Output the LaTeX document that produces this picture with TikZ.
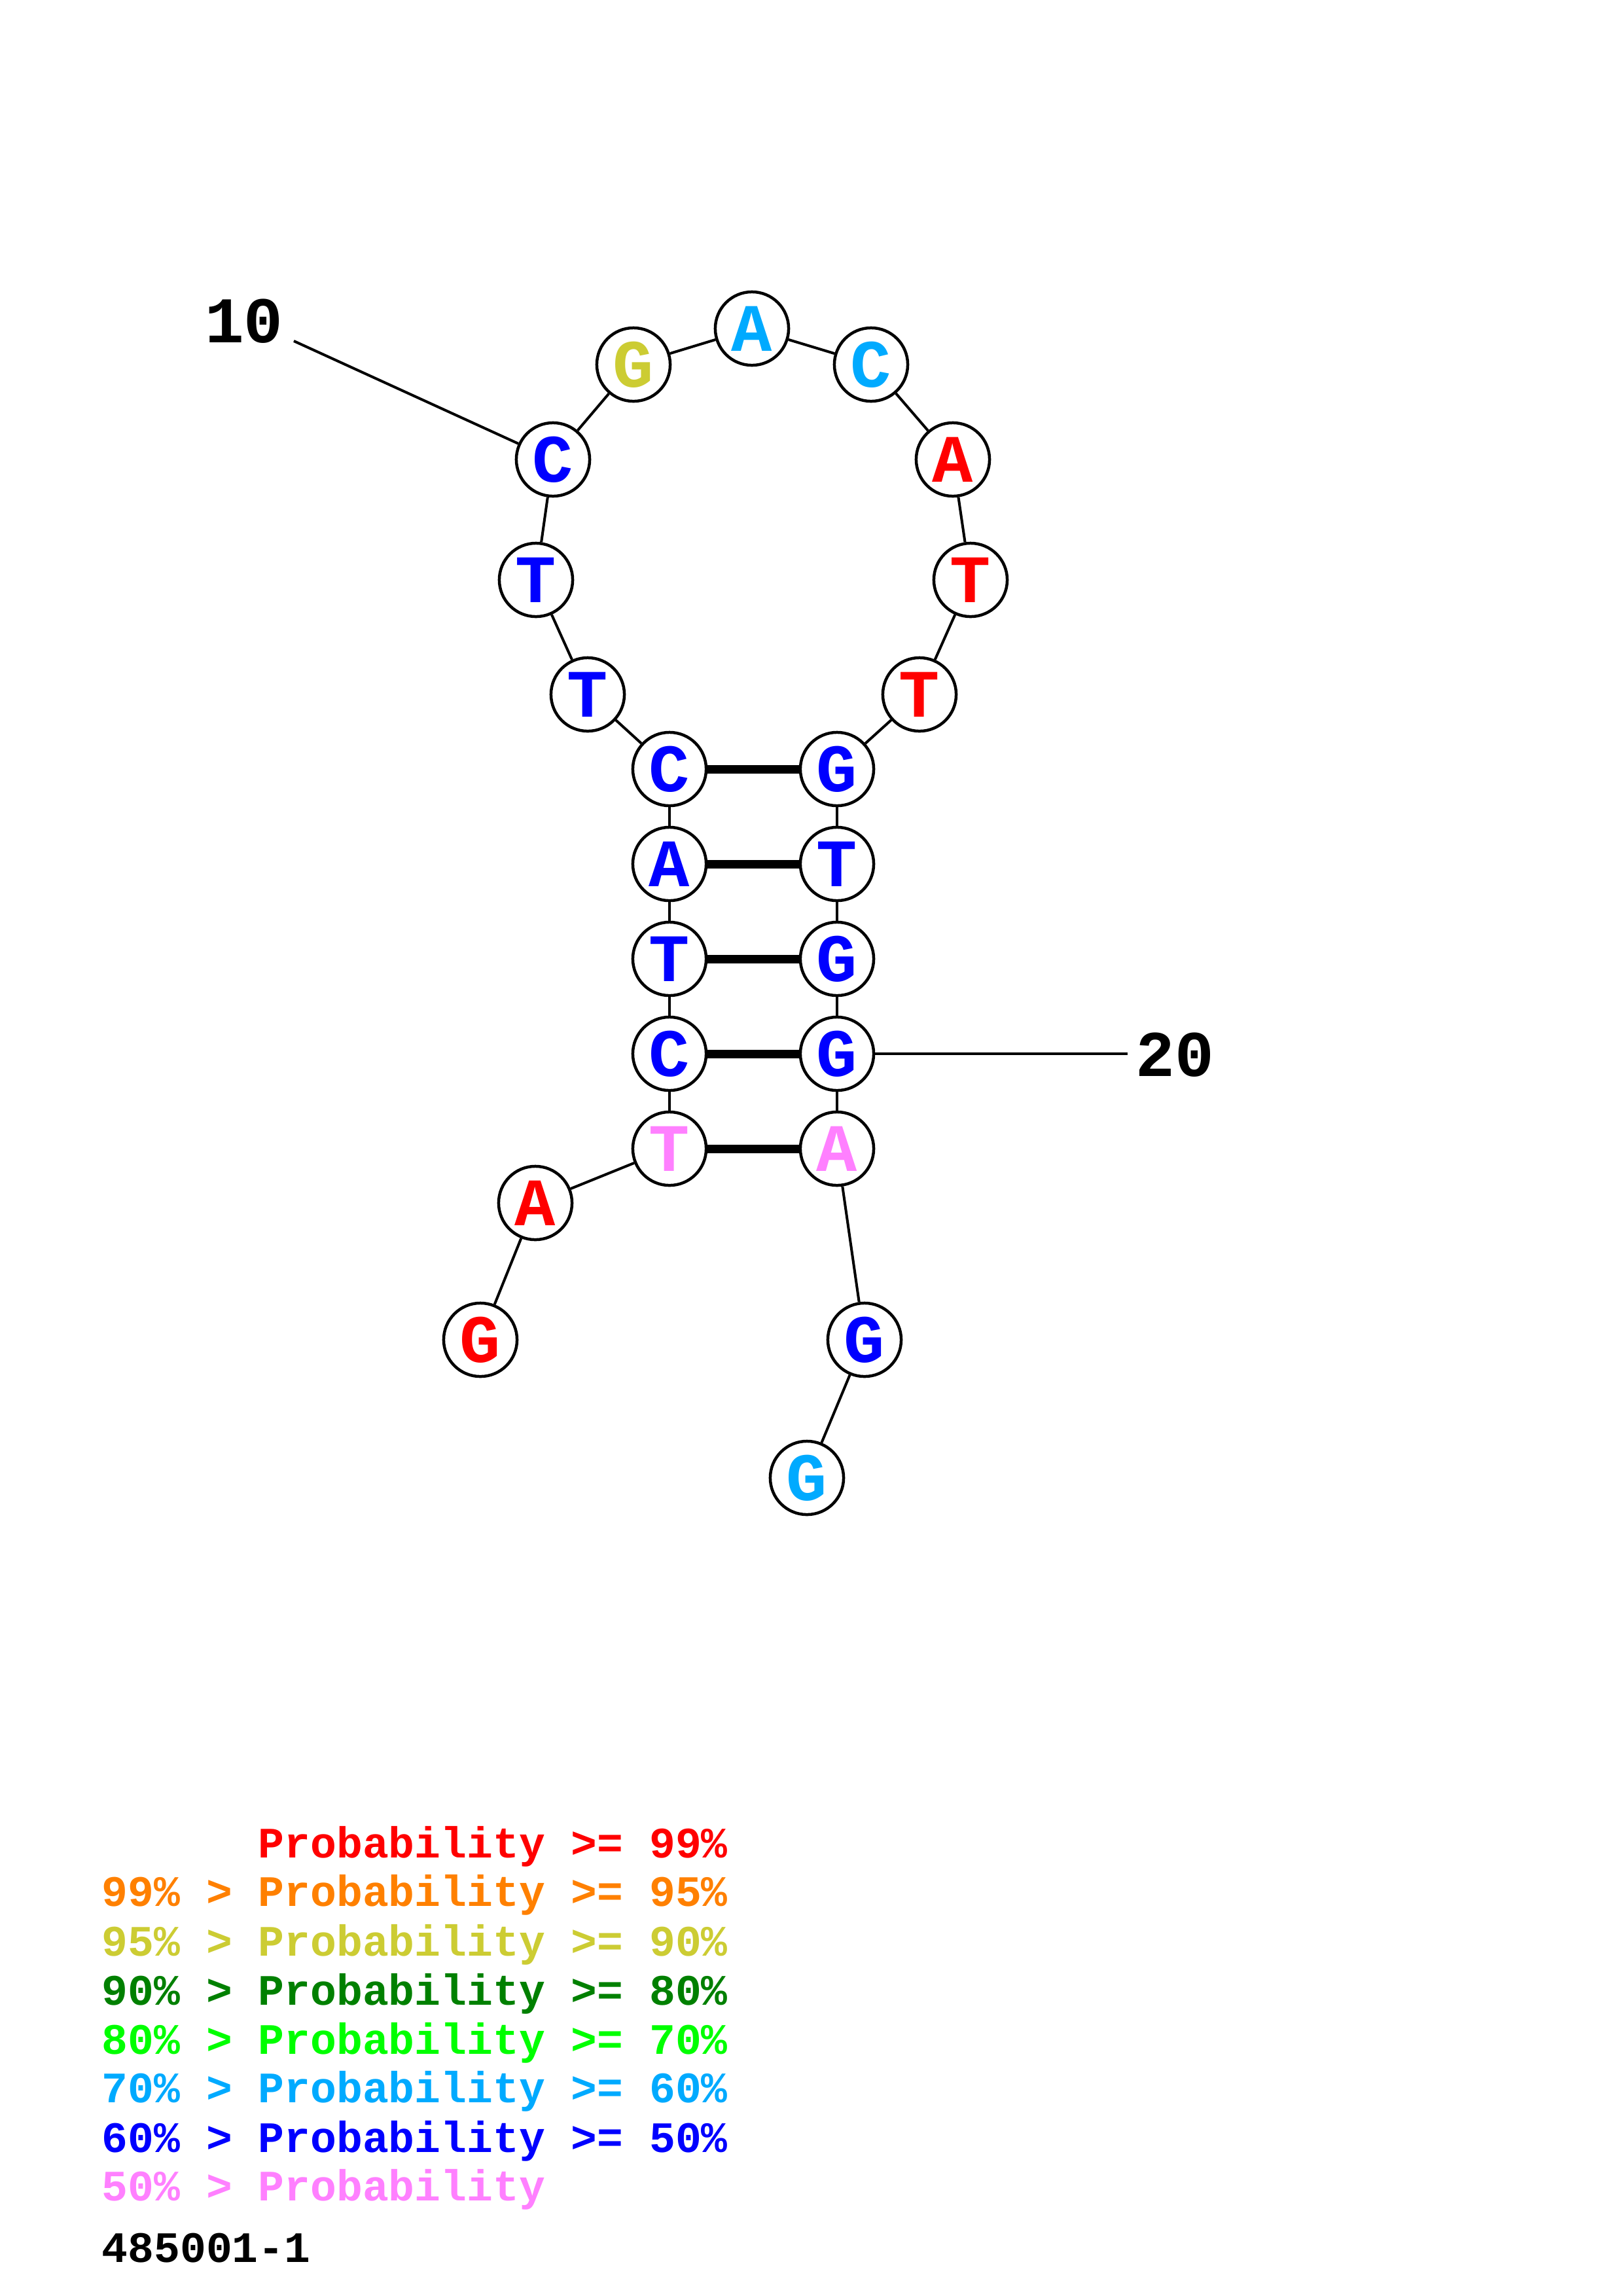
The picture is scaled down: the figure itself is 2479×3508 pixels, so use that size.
\documentclass[tikz,border=0pt]{standalone}
\usepackage{fontspec}
\newfontfamily\cour{Liberation Mono}
\definecolor{pRed}{RGB}{255,0,0}
\definecolor{pOrange}{RGB}{255,128,0}
\definecolor{pYellow}{RGB}{204,204,51}
\definecolor{pDGreen}{RGB}{0,128,0}
\definecolor{pGreen}{RGB}{0,255,0}
\definecolor{pLBlue}{RGB}{0,170,255}
\definecolor{pBlue}{RGB}{0,0,255}
\definecolor{pPink}{RGB}{255,128,255}
\tikzset{
  nt/.style={circle, draw=black, line width=0.38mm, fill=white, minimum size=9.5mm, inner sep=0pt,
    font=\cour\bfseries\fontsize{25}{25}\selectfont},
  bb/.style={line width=0.34mm},
  bp/.style={line width=1.1mm},
  numlab/.style={inner sep=0pt, font=\cour\bfseries\fontsize{24}{24}\selectfont},
  leg/.style={anchor=base west, inner sep=0pt, font=\cour\bfseries\fontsize{16}{16}\selectfont}
}
\begin{document}
\begin{tikzpicture}[x=0.084711mm, y=-0.084711mm]
\path[use as bounding box, fill=white] (0,0) rectangle (2479,3508);
% nucleotides
\node[nt, text=pRed]    (n1)  at (734,2047) {G};
\node[nt, text=pRed]    (n2)  at (818,1838) {A};
\node[nt, text=pPink]   (n3)  at (1023,1755) {T};
\node[nt, text=pBlue]   (n4)  at (1023,1610) {C};
\node[nt, text=pBlue]   (n5)  at (1023,1465) {T};
\node[nt, text=pBlue]   (n6)  at (1023,1320) {A};
\node[nt, text=pBlue]   (n7)  at (1023,1175) {C};
\node[nt, text=pBlue]   (n8)  at (898,1061) {T};
\node[nt, text=pBlue]   (n9)  at (819,886) {T};
\node[nt, text=pBlue]   (n10) at (845,702) {C};
\node[nt, text=pYellow] (n11) at (968,557) {G};
\node[nt, text=pLBlue]  (n12) at (1149,502) {A};
\node[nt, text=pLBlue]  (n13) at (1331,557) {C};
\node[nt, text=pRed]    (n14) at (1456,702) {A};
\node[nt, text=pRed]    (n15) at (1483,886) {T};
\node[nt, text=pRed]    (n16) at (1405,1061) {T};
\node[nt, text=pBlue]   (n17) at (1279,1175) {G};
\node[nt, text=pBlue]   (n18) at (1279,1320) {T};
\node[nt, text=pBlue]   (n19) at (1279,1465) {G};
\node[nt, text=pBlue]   (n20) at (1279,1610) {G};
\node[nt, text=pPink]   (n21) at (1279,1755) {A};
\node[nt, text=pBlue]   (n22) at (1321,2047) {G};
\node[nt, text=pLBlue]  (n23) at (1233,2258) {G};
% backbone
\foreach \a/\b in {n1/n2,n2/n3,n3/n4,n4/n5,n5/n6,n6/n7,n7/n8,n8/n9,n9/n10,n10/n11,n11/n12,n12/n13,n13/n14,n14/n15,n15/n16,n16/n17,n17/n18,n18/n19,n19/n20,n20/n21,n21/n22,n22/n23}
  \draw[bb] (\a) -- (\b);
% base pairs
\foreach \a/\b in {n3/n21,n4/n20,n5/n19,n6/n18,n7/n17}
  \draw[bp] (\a) -- (\b);
% numbering
\node[numlab] (l10) at (373,491) {10};
\coordinate (t10) at (449,521);
\draw[bb] (t10) -- (n10);
\node[numlab] (l20) at (1795,1612) {20};
\coordinate (t20) at (1723,1610);
\draw[bb] (n20) -- (t20);
% legend
\node[leg, text=pRed]    (g1) at (394,2838) {Probability >= 99\%};
\node[leg, text=pOrange] (g2) at (155,2912) {99\% > Probability >= 95\%};
\node[leg, text=pYellow] (g3) at (155,2988) {95\% > Probability >= 90\%};
\node[leg, text=pDGreen] (g4) at (155,3063) {90\% > Probability >= 80\%};
\node[leg, text=pGreen]  (g5) at (155,3138) {80\% > Probability >= 70\%};
\node[leg, text=pLBlue]  (g6) at (155,3212) {70\% > Probability >= 60\%};
\node[leg, text=pBlue]   (g7) at (155,3288) {60\% > Probability >= 50\%};
\node[leg, text=pPink]   (g8) at (155,3362) {50\% > Probability};
\node[leg, text=black]   (id) at (155,3456) {485001-1};
\end{tikzpicture}
\end{document}
